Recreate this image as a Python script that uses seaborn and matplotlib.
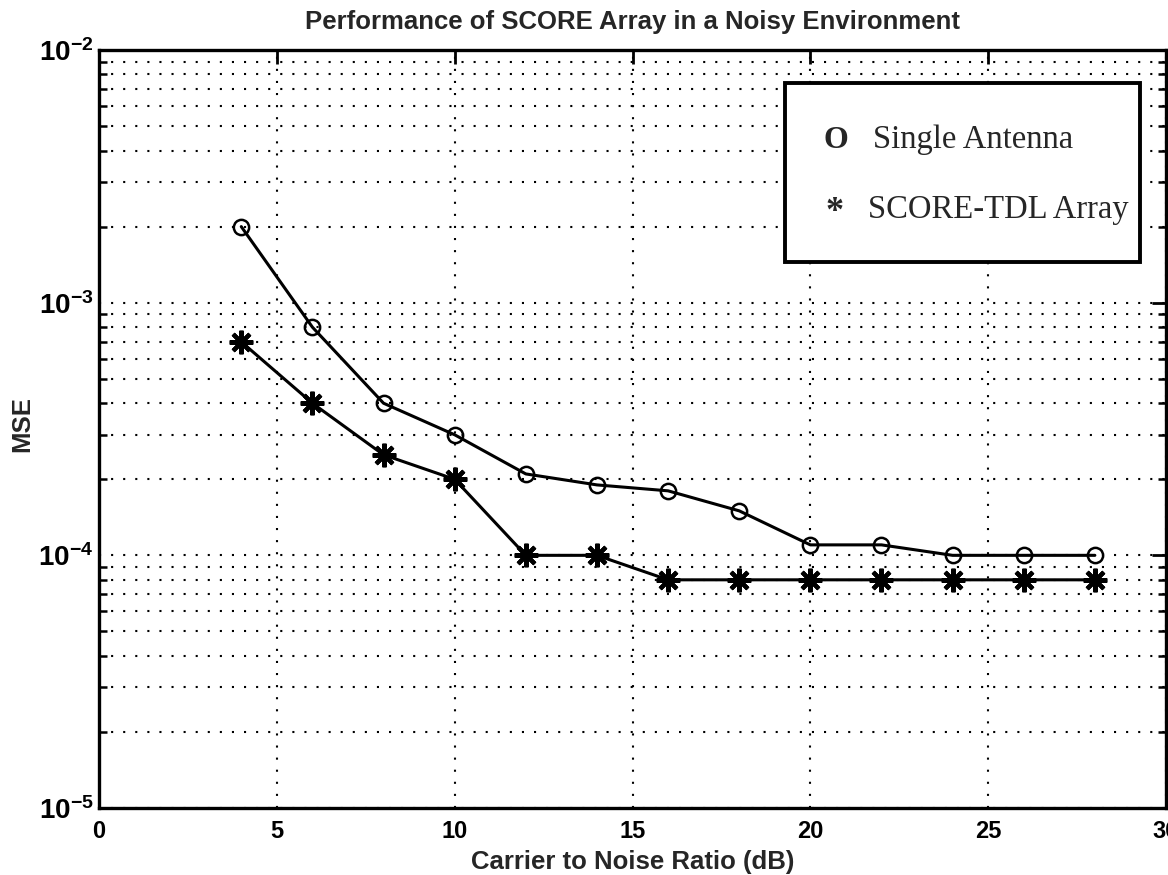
import matplotlib
matplotlib.use("Agg")
import matplotlib.pyplot as plt
import seaborn as sns
import pandas as pd
import numpy as np
from matplotlib.ticker import LogLocator, FixedLocator
from matplotlib.patches import Rectangle

cnr = [4, 6, 8, 10, 12, 14, 16, 18, 20, 22, 24, 26, 28]
single_antenna = [2.0e-3, 8.0e-4, 4.0e-4, 3.0e-4, 2.1e-4, 1.9e-4, 1.8e-4, 1.5e-4, 1.1e-4, 1.1e-4, 1.0e-4, 1.0e-4, 1.0e-4]
score_tdl = [7.0e-4, 4.0e-4, 2.5e-4, 2.0e-4, 1.0e-4, 1.0e-4, 8.0e-5, 8.0e-5, 8.0e-5, 8.0e-5, 8.0e-5, 8.0e-5, 8.0e-5]
x_ticks = [0, 5, 10, 15, 20, 25, 30]
legend_labels = ["Single Antenna", "SCORE-TDL Array"]
legend_symbols = ["O", "*"]

sns.set_style("white")
plt.rcParams['font.family'] = ['Liberation Sans', 'DejaVu Sans']
plt.rcParams['mathtext.fontset'] = 'custom'
plt.rcParams['mathtext.rm'] = 'Liberation Sans:bold'
plt.rcParams['mathtext.it'] = 'Liberation Sans:bold'
plt.rcParams['mathtext.bf'] = 'Liberation Sans:bold'

fig = plt.figure(figsize=(11.68, 8.75), dpi=100)
L, R, T, B = 99, 1166, 50, 808
ax = fig.add_axes([L/1168, 1 - B/875, (R - L)/1168, (B - T)/875])

df1 = pd.DataFrame({"x": cnr, "y": single_antenna})
df2 = pd.DataFrame({"x": cnr, "y": score_tdl})
sns.lineplot(data=df1, x="x", y="y", ax=ax, color="black", linewidth=2.2,
             marker="o", markersize=11, markerfacecolor="none",
             markeredgecolor="black", markeredgewidth=1.8, zorder=3)
sns.lineplot(data=df2, x="x", y="y", ax=ax, color="black", linewidth=2.2,
             marker=(8, 2, 0), markersize=17, markeredgecolor="black",
             markeredgewidth=3, zorder=3)

ax.set_yscale("log")
ax.set_xlim(0, 30)
ax.set_ylim(1e-5, 1e-2)
ax.xaxis.set_major_locator(FixedLocator(x_ticks))
ax.yaxis.set_major_locator(LogLocator(base=10, numticks=10))
ax.yaxis.set_minor_locator(LogLocator(base=10, subs=np.arange(2, 10), numticks=20))

dots = (0, (1, 4.8))
ax.grid(True, which="major", axis="both", color="black", linestyle=dots, linewidth=1.5)
ax.grid(True, which="minor", axis="y", color="black", linestyle=dots, linewidth=1.5)

for s in ax.spines.values():
    s.set_linewidth(2.4)
    s.set_color("black")
ax.tick_params(which="major", direction="in", length=10, width=2, top=True, right=True,
               labelsize=17, colors="black")
ax.tick_params(axis="y", which="major", pad=4, labelsize=20)
ax.tick_params(axis="x", which="major", pad=9)
ax.tick_params(which="minor", direction="in", length=6, width=1.8, left=True, right=True,
               colors="black")
for lbl in ax.get_xticklabels() + ax.get_yticklabels():
    lbl.set_fontweight("bold")

ax.set_xlabel("Carrier to Noise Ratio (dB)", fontsize=18.5, fontweight="bold")
ax.xaxis.set_label_coords(0.5, (B - 850) / (B - T))
ax.set_ylabel("MSE", fontsize=18.5, fontweight="bold")
ax.yaxis.set_label_coords((34 - L) / (R - L), (B - 424) / (B - T))
ax.set_title("Performance of SCORE Array in a Noisy Environment", fontsize=18.5,
             fontweight="bold", pad=15)

# Legend box (text-based, as in the original)
def fx(px):
    return (px - L) / (R - L)

def fy(py):
    return (B - py) / (B - T)

rect = Rectangle((fx(785), fy(262)), fx(1140) - fx(785), fy(83) - fy(262),
                 transform=ax.transAxes, facecolor="white", edgecolor="black",
                 linewidth=2.8, zorder=5)
ax.add_patch(rect)
serif = ['Liberation Serif', 'DejaVu Serif']
ax.text(fx(836), fy(148), legend_symbols[0], transform=ax.transAxes, family=serif,
        fontsize=23, fontweight="bold", ha="center", va="baseline", zorder=6)
ax.text(fx(873), fy(148), legend_labels[0], transform=ax.transAxes, family=serif,
        fontsize=23.5, ha="left", va="baseline", zorder=6)
ax.text(fx(835), fy(213), legend_symbols[1], transform=ax.transAxes, family=serif,
        fontsize=26, fontweight="bold", ha="center", va="center", zorder=6)
ax.text(fx(868), fy(218), legend_labels[1], transform=ax.transAxes, family=serif,
        fontsize=23.5, ha="left", va="baseline", zorder=6)

fig.savefig("out.png", dpi=100, facecolor="white")
